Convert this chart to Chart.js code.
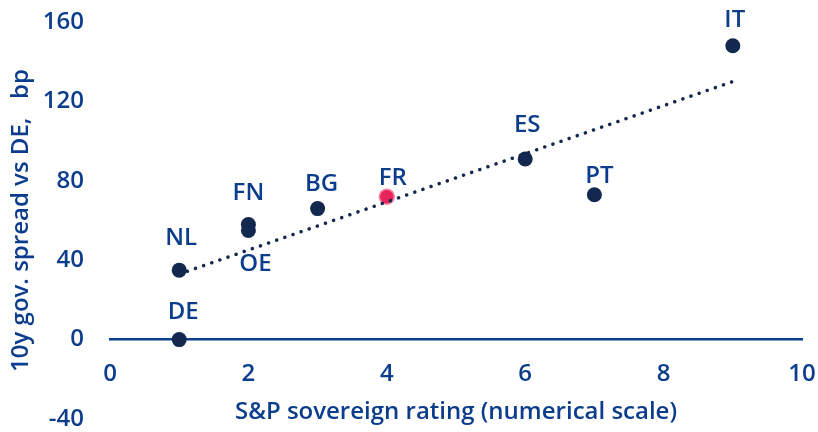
<!DOCTYPE html>
<html>
<head>
<meta charset="utf-8">
<script src="https://cdn.jsdelivr.net/npm/chart.js@4/dist/chart.umd.min.js"></script>
<style>
  html, body { margin: 0; padding: 0; background: #fff; }
  #wrap { width: 818px; height: 432px; position: relative; }
</style>
</head>
<body>
<div id="wrap"><canvas id="chart"></canvas></div>
<script>
const countries = ['DE', 'NL', 'FN', 'OE', 'BG', 'FR', 'ES', 'PT', 'IT'];
const ratings = [1, 1, 2, 2, 3, 4, 6, 7, 9];
const spreads = [0, 35, 58, 55, 66, 72, 91, 73, 148];
const trendX = [1, 9];
const trendY = [33, 130];

const TEXT = '#0c3d8c';
const NAVY = '#13284f';
const FONT = "'Open Sans', sans-serif";
const WEIGHT = '600';

// label offsets (px) above the marker, negative = below
const labelDy = { DE: 27, NL: 32, FN: 31, OE: -34, BG: 24, FR: 19, ES: 34, PT: 19, IT: 26 };
const labelDx = { OE: 7, BG: 4, FR: 6, ES: 2, PT: 5, IT: 2, DE: 4, NL: 2 };

const pointLabels = {
  id: 'pointLabels',
  afterDatasetsDraw(chart) {
    const meta = chart.getDatasetMeta(1);
    const ctx = chart.ctx;
    ctx.save();
    ctx.font = WEIGHT + ' 24px ' + FONT;
    ctx.fillStyle = TEXT;
    ctx.textAlign = 'center';
    ctx.textBaseline = 'middle';
    meta.data.forEach((pt, i) => {
      const name = countries[i];
      ctx.fillText(name, pt.x + (labelDx[name] || 0), pt.y - labelDy[name]);
    });
    ctx.restore();
  }
};

const tickFont = { family: FONT, size: 24, weight: WEIGHT };

new Chart(document.getElementById('chart'), {
  type: 'scatter',
  data: {
    datasets: [
      {
        type: 'line',
        data: trendX.map((x, i) => ({ x, y: trendY[i] })),
        borderColor: NAVY,
        borderWidth: 3.5,
        borderDash: [0.1, 8.5],
        borderCapStyle: 'round',
        pointRadius: 0,
        fill: false
      },
      {
        data: ratings.map((x, i) => ({ x, y: spreads[i] })),
        backgroundColor: countries.map(c => c === 'FR' ? '#e8245a' : NAVY),
        borderColor: countries.map(c => c === 'FR' ? '#f18aa4' : NAVY),
        borderWidth: countries.map(c => c === 'FR' ? 1.5 : 0),
        pointRadius: 7.5,
        clip: false
      }
    ]
  },
  options: {
    responsive: true,
    maintainAspectRatio: false,
    animation: false,
    layout: { padding: { top: 22, right: 16, bottom: 13, left: 7 } },
    plugins: {
      legend: { display: false },
      tooltip: { enabled: false }
    },
    scales: {
      x: {
        type: 'linear',
        position: { y: 0 },
        min: 0,
        max: 10,
        afterFit: (scale) => { scale.paddingLeft = 0; scale.paddingRight = 0; scale.height = 87; },
        ticks: { stepSize: 2, padding: 20, color: TEXT, font: tickFont },
        grid: { display: false, drawTicks: false },
        border: { display: true, color: '#0d3f8f', width: 2.5 },
        title: {
          display: true,
          text: 'S&P sovereign rating (numerical scale)',
          color: TEXT,
          font: tickFont,
          padding: { top: 0, bottom: 0 }
        }
      },
      y: {
        min: -40,
        max: 160,
        afterFit: (scale) => { scale.width = 103; scale.paddingTop = 0; scale.paddingBottom = 0; },
        ticks: { stepSize: 40, padding: 26, color: TEXT, font: tickFont },
        grid: { display: false, drawTicks: false },
        border: { display: false },
        title: {
          display: true,
          text: '10y gov. spread vs DE,   bp',
          color: TEXT,
          font: tickFont,
          padding: { top: 0, bottom: 0 }
        }
      }
    }
  },
  plugins: [pointLabels]
});
</script>
</body>
</html>
